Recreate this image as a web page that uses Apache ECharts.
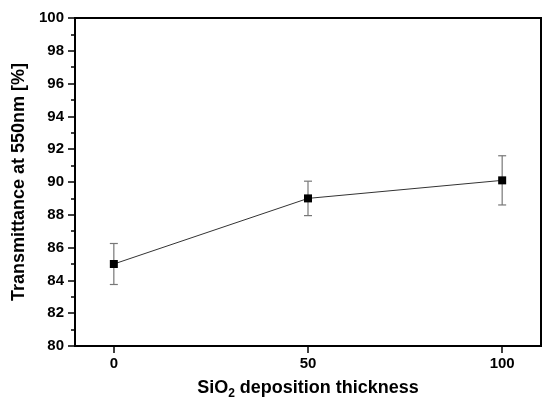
<!DOCTYPE html>
<html>
<head>
<meta charset="utf-8">
<script src="https://cdn.jsdelivr.net/npm/echarts@6/dist/echarts.min.js"></script>
<style>html,body{margin:0;padding:0;background:#fff}#c{width:545px;height:401px}</style>
</head>
<body>
<div id="c"></div>
<script>
// thickness vs transmittance
var thickness = [0, 50, 100];
var transmit = [85.0, 89.0, 90.1];
var errs = [1.25, 1.05, 1.5];
var xTicks = [0, 50, 100];

var chart = echarts.init(document.getElementById('c'));
var font = 'Arial, "Liberation Sans", sans-serif';

var pts = thickness.map(function (t, i) { return [t, transmit[i]]; });
var bars = thickness.map(function (t, i) { return [t, transmit[i] - errs[i], transmit[i] + errs[i]]; });

chart.setOption({
    animation: false,
    grid: {left: 75, right: 4, top: 18, bottom: 55, outerBoundsMode: 'none', show: true, borderColor: '#000', borderWidth: 2},
    xAxis: {
        type: 'value', min: -10, max: 110,
        name: '{a|SiO}{s|2}{a| deposition thickness}',
        nameLocation: 'middle', nameGap: 30,
        nameTextStyle: {
            rich: {
                a: {fontFamily: font, fontWeight: 'bold', fontSize: 18, color: '#000'},
                s: {fontFamily: font, fontWeight: 'bold', fontSize: 12, color: '#000', padding: [12, 0, 0, 0]}
            }
        },
        axisLine: {onZero: false, lineStyle: {color: '#000', width: 2}},
        axisTick: {show: true, length: 7, lineStyle: {color: '#000', width: 1.5}, customValues: xTicks},
        axisLabel: {customValues: xTicks, margin: 10, fontFamily: font, fontWeight: 'bold', fontSize: 15, color: '#000'},
        splitLine: {show: false}
    },
    yAxis: {
        type: 'value', min: 80, max: 100, interval: 2,
        name: 'Transmittance at 550nm [%]',
        nameLocation: 'middle', nameGap: 46,
        nameTextStyle: {fontFamily: font, fontWeight: 'bold', fontSize: 18, color: '#000'},
        axisLine: {show: true, onZero: false, lineStyle: {color: '#000', width: 2}},
        axisTick: {show: true, length: 7, lineStyle: {color: '#000', width: 1.5}},
        minorTick: {show: true, splitNumber: 2, length: 4, lineStyle: {color: '#000', width: 1.5}},
        axisLabel: {margin: 11, fontFamily: font, fontWeight: 'bold', fontSize: 15, color: '#000'},
        splitLine: {show: false}
    },
    series: [{
        type: 'custom',
        data: bars,
        z: 1,
        renderItem: function (params, api) {
            var x = api.value(0);
            var lo = api.coord([x, api.value(1)]);
            var hi = api.coord([x, api.value(2)]);
            var w = 4;
            var st = {stroke: '#777', lineWidth: 1.2};
            return {type: 'group', children: [
                {type: 'line', shape: {x1: lo[0], y1: lo[1], x2: hi[0], y2: hi[1]}, style: st},
                {type: 'line', shape: {x1: lo[0] - w, y1: lo[1], x2: lo[0] + w, y2: lo[1]}, style: st},
                {type: 'line', shape: {x1: hi[0] - w, y1: hi[1], x2: hi[0] + w, y2: hi[1]}, style: st}
            ]};
        }
    }, {
        type: 'line',
        data: pts,
        z: 3,
        symbol: 'rect', symbolSize: 8,
        itemStyle: {color: '#000'},
        lineStyle: {color: '#333', width: 1}
    }]
});
</script>
</body>
</html>
